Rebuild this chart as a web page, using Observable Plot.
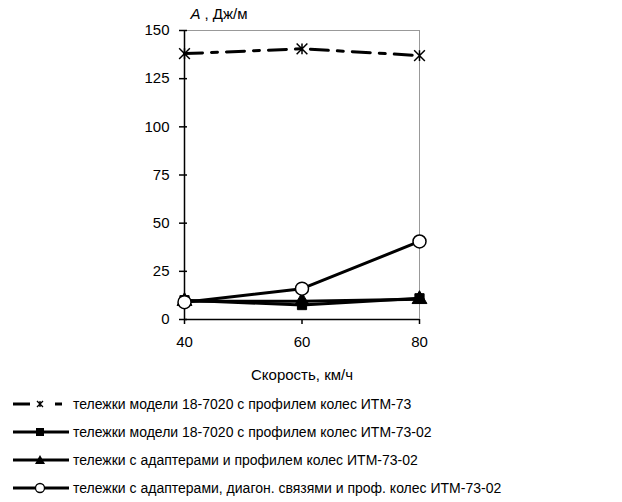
<!DOCTYPE html>
<html><head><meta charset="utf-8">
<script src="https://cdn.jsdelivr.net/npm/d3@7"></script>
<script src="https://cdn.jsdelivr.net/npm/@observablehq/plot@0.6"></script>
<style>
body{margin:0;background:#fff;font-family:"Liberation Sans",Arial,sans-serif;}
#legend{font-size:14px;color:#000;}
.row{display:flex;align-items:center;height:28px;}
.row svg{display:block;margin-left:10px;margin-right:3px;}
</style></head>
<body><div id="chart"></div><div id="legend"></div>
<script>
const speeds = [40, 60, 80];
const xTicks = [40, 60, 80];
const yTicks = [0, 25, 50, 75, 100, 125, 150];
const s1 = [138, 140.5, 137];
const s2 = [10, 7.5, 11];
const s3 = [9.5, 9.5, 10.5];
const s4 = [9, 16, 40.5];
const names = [
  "тележки модели 18-7020 с профилем колес ИТМ-73",
  "тележки модели 18-7020 с профилем колес ИТМ-73-02",
  "тележки с адаптерами и профилем колес ИТМ-73-02",
  "тележки с адаптерами, диагон. связями и проф. колес ИТМ-73-02"
];
const yLabelItalic = "A";
const yLabelRest = ", Дж/м";
const xLabel = "Скорость, км/ч";

const toRows = (vals) => speeds.map((x, i) => ({x, y: vals[i]}));
const d1 = toRows(s1), d2 = toRows(s2), d3r = toRows(s3), d4 = toRows(s4);

const starSymbol = {
  draw(ctx, size) {
    const r = Math.sqrt(size) * 0.55;
    ctx.moveTo(-r, -r); ctx.lineTo(r, r);
    ctx.moveTo(-r, r); ctx.lineTo(r, -r);
    ctx.moveTo(0, -r); ctx.lineTo(0, r);
  }
};

const chart = Plot.plot({
  width: 622, height: 390,
  marginLeft: 184, marginRight: 203, marginTop: 30, marginBottom: 71,
  style: {fontFamily: "'Liberation Sans', Arial, sans-serif", fontSize: "15px", color: "#000", background: "#fff"},
  x: {domain: [40, 80]},
  y: {domain: [0, 150]},
  marks: [
    Plot.ruleY([150], {stroke: "#999", strokeWidth: 1}),
    Plot.ruleX([80], {stroke: "#999", strokeWidth: 1}),
    Plot.ruleX([40], {stroke: "#000", strokeWidth: 1.5}),
    Plot.ruleY([0], {stroke: "#000", strokeWidth: 1.5}),
    Plot.axisY({ticks: yTicks, tickSize: 5, tickPadding: 10, tickFormat: d => String(d), label: null, stroke: "#000", strokeWidth: 1.5}),
    Plot.axisY({ticks: yTicks, tickSize: 3, dx: 3, text: null, label: null, stroke: "#000", strokeWidth: 1.5}),
    Plot.axisX({ticks: xTicks, tickSize: 5, tickPadding: 12, tickFormat: d => String(d), label: null, stroke: "#000", strokeWidth: 1.5}),
    Plot.text([yLabelItalic], {frameAnchor: "top-left", dx: 6, dy: -16, text: d => d, textAnchor: "start", lineAnchor: "middle", fontStyle: "italic"}),
    Plot.text([yLabelRest], {frameAnchor: "top-left", dx: 20, dy: -16, text: d => d, textAnchor: "start", lineAnchor: "middle"}),
    Plot.text([xLabel], {frameAnchor: "bottom", dy: 56, text: d => d, lineAnchor: "middle"}),
    Plot.line(d1, {x: "x", y: "y", stroke: "#000", strokeWidth: 3, strokeDasharray: "18,9,6,9"}),
    Plot.dot(d1, {x: "x", y: "y", symbol: starSymbol, r: 5.5, stroke: "#000", strokeWidth: 1.5, fill: "none"}),
    Plot.line(d2, {x: "x", y: "y", stroke: "#000", strokeWidth: 3}),
    Plot.dot(d2, {x: "x", y: "y", symbol: "square", r: 5.2, fill: "#000", stroke: "#000", strokeWidth: 1}),
    Plot.line(d3r, {x: "x", y: "y", stroke: "#000", strokeWidth: 3}),
    Plot.dot(d3r, {x: "x", y: "y", symbol: "triangle", r: 5.5, fill: "#000", stroke: "#000", strokeWidth: 1}),
    Plot.line(d4, {x: "x", y: "y", stroke: "#000", strokeWidth: 3}),
    Plot.dot(d4, {x: "x", y: "y", symbol: "circle", r: 6.5, fill: "#fff", stroke: "#000", strokeWidth: 1.5})
  ]
});
document.getElementById("chart").appendChild(chart);

// Legend
const legend = d3.select("#legend");
const sym = [
  {type: "star"},
  {type: "square"},
  {type: "triangle"},
  {type: "circle"}
];
names.forEach((name, i) => {
  const row = legend.append("div").attr("class", "row");
  const svg = row.append("svg").attr("width", 60).attr("height", 28);
  const s = sym[i];
  if (s.type === "star") {
    svg.append("line").attr("x1", 3).attr("x2", 20).attr("y1", 14).attr("y2", 14).attr("stroke", "#000").attr("stroke-width", 3);
    svg.append("line").attr("x1", 45).attr("x2", 52).attr("y1", 14).attr("y2", 14).attr("stroke", "#000").attr("stroke-width", 3);
    svg.append("path").attr("d", d3.symbol(starSymbol, 30)()).attr("transform", "translate(30,14)").attr("stroke", "#000").attr("stroke-width", 1.3).attr("fill", "none");
  } else {
    svg.append("line").attr("x1", 3).attr("x2", 59).attr("y1", 14).attr("y2", 14).attr("stroke", "#000").attr("stroke-width", 3);
    if (s.type === "square") svg.append("rect").attr("x", 26).attr("y", 10).attr("width", 8).attr("height", 8).attr("fill", "#000");
    if (s.type === "triangle") svg.append("path").attr("d", "M30,9L35,18L25,18Z").attr("fill", "#000");
    if (s.type === "circle") svg.append("circle").attr("cx", 30).attr("cy", 14).attr("r", 4.5).attr("fill", "#fff").attr("stroke", "#000").attr("stroke-width", 1.3);
  }
  row.append("span").text(name);
});
</script></body></html>
